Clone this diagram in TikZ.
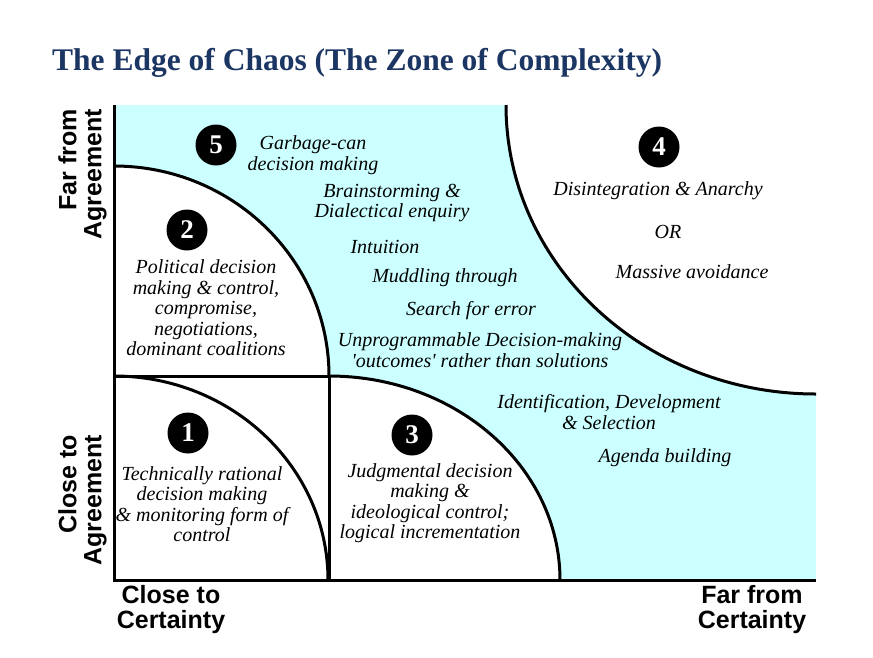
\documentclass[tikz,border=0pt]{standalone}
\usepackage{fontspec}
\setmainfont{Liberation Serif}
\setsansfont{Liberation Sans}
\newfontfamily\rawserif{Liberation Serif}[Ligatures=TeXOff]
\definecolor{zonecyan}{RGB}{204,255,255}
\definecolor{titleblue}{RGB}{28,54,100}
\newcommand{\sq}{{\rawserif\itshape '}}
\begin{document}
\begin{tikzpicture}[x=1pt,y=-1pt,
  numdot/.style={circle,fill=black,minimum size=41pt,inner sep=0pt,text=white,font=\fontsize{27}{27}\selectfont\bfseries},
  itext/.style={align=center,inner sep=0pt,font=\fontsize{20}{20.5}\selectfont\itshape},
  axlabel/.style={inner sep=0pt,font=\fontsize{25}{25}\selectfont\sffamily\bfseries},
  edge/.style={line width=3pt,line cap=butt}]
\useasboundingbox (0,0) rectangle (873,657);
% title
\node[anchor=base west,inner sep=0pt,text=titleblue,font=\fontsize{31.5}{32}\selectfont\bfseries] (title) at (52,70) {The Edge of Chaos (The Zone of Complexity)};
% coordinates
\coordinate (tl) at (114,105);
\coordinate (o) at (114,580);
\coordinate (br) at (816,580);
\coordinate (tr) at (816,105);
\coordinate (ml) at (114,376);
\coordinate (mm) at (329,376);
\coordinate (mb) at (329,580);
% fills
\fill[zonecyan] (tl) rectangle (br);
\fill[white] (ml) rectangle (mb);
\fill[white] (ml) -- (114,166) .. controls (232.7,166) and (329,260) .. (mm) -- cycle;
\fill[white] (mb) -- (mm) .. controls (456.6,376) and (560,467.3) .. (560,580) -- cycle;
\fill[white] (tr) -- (506,105) .. controls (506,264.6) and (644.8,394) .. (816,394) -- cycle;
% lines
\draw[edge] (tl) -- (o) -- (br);
\draw[edge] (ml) -- (mm) -- (mb);
\draw[edge] (114,166) .. controls (232.7,166) and (329,260) .. (mm);
\draw[edge] (ml) .. controls (231.6,376) and (328,467.3) .. (328,580);
\draw[edge] (mm) .. controls (456.6,376) and (560,467.3) .. (560,580);
\draw[edge] (506,105) .. controls (506,264.6) and (644.8,394) .. (816,394);
% number dots
\node[numdot] (n5) at (216,145) {5};
\node[numdot] (n2) at (187,230) {2};
\node[numdot] (n1) at (188,433) {1};
\node[numdot] (n3) at (412,435) {3};
\node[numdot] (n4) at (659,147) {4};
% texts
\node[itext] (t5) at (313,155) {Garbage-can\\decision making};
\node[itext] (tb) at (392,203) {Brainstorming \&\\Dialectical enquiry};
\node[itext] (ti) at (385,247) {Intuition};
\node[itext] (tm) at (445,278) {Muddling through};
\node[itext] (ts) at (471,311) {Search for error};
\node[itext] (tu) at (480,350) {Unprogrammable Decision-making\\\sq outcomes\sq{} rather than solutions};
\node[itext] (td) at (658,191) {Disintegration \& Anarchy};
\node[itext] (tor) at (668,232) {OR};
\node[itext] (tma) at (692,272) {Massive avoidance};
\node[itext] (tid) at (609,412) {Identification, Development\\\& Selection};
\node[itext] (tag) at (665,458) {Agenda building};
\node[itext] (t3) at (430,503) {Judgmental decision\\making \&\\ideological control;\\logical incrementation};
\node[itext] (t1) at (202,504) {Technically rational\\decision making\\\& monitoring form of\\control};
\node[itext] (t2) at (206,308) {Political decision\\making \& control,\\compromise,\\negotiations,\\dominant coalitions};
% axis labels
\node[axlabel,align=center] (xl) at (171,610) {Close to\\Certainty};
\node[axlabel,align=center] (xr) at (752,610) {Far from\\Certainty};
\node[axlabel,align=right,rotate=90,anchor=east] (yt) at (82.5,109) {Far from\\Agreement};
\node[axlabel,align=right,rotate=90,anchor=east] (yb) at (82.5,435) {Close to\\Agreement};
\end{tikzpicture}
\end{document}
